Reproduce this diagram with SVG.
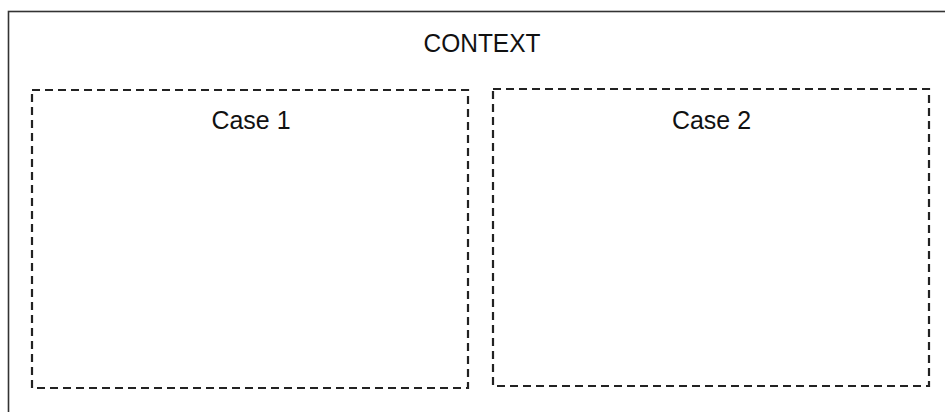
<svg xmlns="http://www.w3.org/2000/svg" width="945" height="412" viewBox="0 0 945 412">
<style>
.frame{fill:none;stroke:#333;stroke-width:1.6}
.case{fill:none;stroke:#222;stroke-width:2.2;stroke-dasharray:8 5}
.lbl{font-family:"Liberation Sans",Arial,sans-serif;font-size:25px;fill:#111;text-anchor:middle}
</style>
<rect width="945" height="412" fill="#fff"/>
<g id="context">
<rect class="frame" x="8.5" y="11.5" width="945" height="420"/>
<text class="lbl" x="482" y="52" textLength="117" lengthAdjust="spacingAndGlyphs">CONTEXT</text>
</g>
<g id="case1">
<rect class="case" x="32" y="90" width="436" height="298"/>
<text class="lbl" x="251" y="129" textLength="79" lengthAdjust="spacingAndGlyphs">Case 1</text>
</g>
<g id="case2">
<rect class="case" x="493" y="89" width="436" height="297"/>
<text class="lbl" x="711.5" y="129" textLength="79" lengthAdjust="spacingAndGlyphs">Case 2</text>
</g>
<g id="connectors"></g>
</svg>
